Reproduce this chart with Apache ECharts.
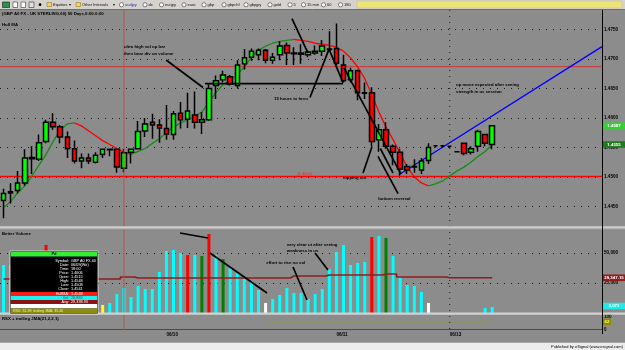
<!DOCTYPE html>
<html><head><meta charset="utf-8">
<script src="https://cdn.jsdelivr.net/npm/echarts@6/dist/echarts.min.js"></script>
<style>html,body{margin:0;padding:0;background:#8c8c8c;overflow:hidden}#c{width:625px;height:350px}</style>
</head><body><div id="c"></div>
<script>
// ---------------- DATA ----------------
const chartTitle = '(GBP A0 FX - UK STERLING,60) 90 Days,0:00-0:00';
const slotCount = 85;                       // hourly slots on the x axis (incl. empty right margin)
const dateTickIndex = [23, 47, 63];
const dateTickText = ['06/10', '06/11', '06/13'];
const weekStartIndex = 63;
const cursorIndex = 17;
// [open, close, low, high]
const ohlc = [
 [1.4460,1.4472,1.4430,1.4480],[1.4473,1.4475,1.4455,1.4490],[1.4477,1.4490,1.4472,1.4510],[1.4490,1.4532,1.4485,1.4547],
 [1.4533,1.4531,1.4505,1.4552],[1.4530,1.4558,1.4527,1.4572],[1.4560,1.4593,1.4557,1.4597],[1.4593,1.4585,1.4580,1.4608],
 [1.4585,1.4568,1.4557,1.4588],[1.4568,1.4548,1.4532,1.4577],[1.4548,1.4527,1.4523,1.4562],[1.4527,1.4532,1.4515,1.4540],
 [1.4532,1.4527,1.4522,1.4540],[1.4525,1.4537,1.4523,1.4542],[1.4538,1.4547,1.4532,1.4548],[1.4547,1.4546,1.4535,1.4548],
 [1.4547,1.4517,1.4507,1.4548],[1.4515,1.4541,1.4508,1.4548],[1.4542,1.4547,1.4523,1.4548],[1.4548,1.4577,1.4547,1.4595],
 [1.4578,1.4590,1.4568,1.4600],[1.4593,1.4588,1.4565,1.4607],[1.4588,1.4583,1.4558,1.4598],[1.4582,1.4573,1.4563,1.4622],
 [1.4572,1.4607,1.4563,1.4612],[1.4608,1.4597,1.4582,1.4627],[1.4598,1.4612,1.4583,1.4643],[1.4605,1.4593,1.4582,1.4645],
 [1.4593,1.4597,1.4573,1.4610],[1.4597,1.4650,1.4595,1.4658],[1.4655,1.4663,1.4632,1.4672],[1.4665,1.4673,1.4660,1.4680],
 [1.4670,1.4657,1.4655,1.4673],[1.4655,1.4690,1.4650,1.4698],[1.4692,1.4702,1.4682,1.4717],[1.4703,1.4713,1.4697,1.4718],
 [1.4707,1.4715,1.4698,1.4718],[1.4715,1.4698,1.4693,1.4717],[1.4698,1.4703,1.4692,1.4710],[1.4707,1.4722,1.4698,1.4730],
 [1.4723,1.4710,1.4690,1.4728],[1.4710,1.4709,1.4690,1.4720],[1.4710,1.4708,1.4692,1.4725],[1.4707,1.4712,1.4703,1.4715],
 [1.4710,1.4713,1.4707,1.4723],[1.4713,1.4722,1.4705,1.4732],[1.4717,1.4716,1.4713,1.4747],[1.4718,1.4693,1.4690,1.4760],
 [1.4690,1.4663,1.4660,1.4707],[1.4665,1.4680,1.4660,1.4685],[1.4680,1.4643,1.4630,1.4682],[1.4643,1.4642,1.4632,1.4660],
 [1.4643,1.4560,1.4552,1.4652],[1.4563,1.4580,1.4543,1.4590],[1.4580,1.4552,1.4548,1.4593],[1.4552,1.4542,1.4520,1.4555],
 [1.4542,1.4513,1.4502,1.4548],[1.4518,1.4512,1.4505,1.4522],[1.4518,1.4517,1.4507,1.4530],[1.4512,1.4527,1.4505,1.4532],
 [1.4528,1.4550,1.4522,1.4557],[1.4553,1.4553,1.4550,1.4554],[1.4553,1.4553,1.4550,1.4553],[1.4552,1.4552,1.4549,1.4552],
 [1.4543,1.4543,1.4543,1.4543],[1.4557,1.4540,1.4537,1.4558],[1.4542,1.4548,1.4538,1.4552],[1.4552,1.4577,1.4543,1.4580],
 [1.4572,1.4557,1.4552,1.4573],[1.4555,1.4587,1.4547,1.4588]
];
const hullMA = [
 1.44483,1.44583,1.44733,1.4485,1.45017,1.452,1.45383,1.456,1.458,1.459,
 1.45917,1.45867,1.45783,1.457,1.45617,1.4555,1.45483,1.45417,1.45383,1.45433,
 1.45483,1.45567,1.4565,1.4575,1.4585,1.45917,1.45967,1.46033,1.461,1.46267,
 1.46433,1.46567,1.46633,1.46733,1.46867,1.47033,1.4715,1.47217,1.47267,1.473,
 1.47317,1.47333,1.47317,1.473,1.47267,1.4725,1.47233,1.472,1.47133,1.47017,
 1.46867,1.46667,1.464,1.461,1.4585,1.45633,1.454,1.45167,1.45,1.449,
 1.4485,1.44883,1.44933,1.45017,1.451,1.45167,1.4525,1.4535,1.45433,1.4555
];
const resistanceLevel = 1.4687;
const supportLevel = 1.4501;
const trendLine = [[56, 1.4505], [84.5, 1.4721]];
const volumes = [
 40000,40000,38000,45000,42000,35000,56700,40000,36000,30000,
 32000,25000,22000,20000,6700,8300,15800,20800,13300,22500,
 20000,20000,34200,51700,52500,50000,48300,48300,47500,65800,
 48300,45000,37500,33300,30000,26700,19200,8300,11700,15000,
 20800,16700,16700,11700,15800,20000,36700,50800,56700,40000,
 41700,42500,63300,64200,62500,47500,30000,23300,22500,17500,
 8300,0,0,0,0,0,0,0,4200,5000
];
// c = normal, r = climax, g = no-demand/churn, w = low volume, y = lowest
const volumeKind = [
 'c','c','c','c','c','c','r','c','c','c','c','c','c','c','y','c','c','c','c','c',
 'c','c','c','c','c','c','r','c','g','r','c','g','c','c','c','c','c','w','c','c',
 'c','c','c','c','c','c','c','c','c','c','c','c','r','c','g','c','c','c','c','c',
 'w','c','c','c','c','c','c','c','c','c'
];
const avgVolume = [
 28300,28300,28300,28300,28300,28300,28300,28300,28300,28300,28300,28300,28300,28300,28300,28300,28300,
 30000,30000,
 29200,29200,29200,29200,29200,29200,29200,29200,29200,29200,29200,29200,29200,29200,29200,29200,29200,29200,29200,29200,29200,29200,
 30800,30800,30800,30800,30800,
 31700,31700,31700,31700,31700,31700,31700,31700,
 32500,32500,
 30000,30000,30000,30000,30000,30000,30000,
 29347.15,29347.15,29347.15,29347.15,29347.15,29347.15,29347.15
];
const lastVolumeText = '3,072';
const rsxJma = [
 null,null,null,null,null,null,null,null,null,null,null,null,null,null,null,null,null,null,null,null,
 null,null,null,null,null,null,null,null,null,null,null,null,null,null,null,null,null,
 62,62,62,62,62,62,62,62,62,62,62,62,62,62,62,62,62,62,62,62,62,62,62,62,62,62,62,62,62,62,62,62,62
];
// annotations: [barIndex, price] / [barIndex, volume]
const priceNotes = [
 {text:['ultra high vol up bar','then bear div on volume'], at:[17.0, 1.4720]},
 {text:['15 hours to form'], at:[38.2, 1.46333]},
 {text:['topping out'], at:[47.9, 1.44983]},
 {text:['bottom reversal'], at:[52.9, 1.44633]},
 {text:['up move expected after seeing','strength in us session'], at:[63.9, 1.46567]}
];
const priceNoteLines = [
 [[22.95,1.46983],[28.17,1.46517]],
 [[28.45,1.46583],[47.93,1.46583]],
 [[40.73,1.47683],[42.99,1.4710]],
 [[43.27,1.4635],[45.96,1.47167],[47.93,1.4660]],
 [[48.07,1.4685],[56.12,1.4505]],
 [[50.76,1.45067],[52.03,1.45517]],
 [[55.7,1.44717],[52.87,1.4535]],
 [[53.2,1.45483],[55.0,1.45067]]
];
const volumeNotes = [
 {text:['very clear ut after seeing','weakness in us'], at:[40.0, 56667]},
 {text:['effort to rise no vol'], at:[37.1, 41667]}
];
const volumeNoteLines = [
 [[24.92,66667],[28.87,62500]],
 [[29.15,50000],[37.2,16667]],
 [[40.87,38333],[42.85,10833]],
 [[43.98,50000],[45.81,35833]]
];
const dataWindow = [
 ['Symbol:','GBP A0 FX,60'],['Date:','06/09(We)'],['Time:','18:00'],['Price:','1.4606'],
 ['Open:','1.4515'],['High:','1.4548'],['Low:','1.4508'],['Close:','1.4541']
];
const dataWindowHull = ['HullMA:','1.4548'];
const dataWindowVol = ['Vol:','28,883'];
const dataWindowAvg = ['Avg:','29,338.93'];
const dataWindowRsx = 'RSX: 31.39  trailing JMA: 35.40';
const toolbarItems = [
 ['audjpy',121.5],['dx',145],['eurjpy',161.5],['euro',184],['gbp',204],['gbpchf',224],
 ['gbpjpy',246],['gold',270],['5',290],['15 min',303.5],['60',323.5],['180',340.5]
];

// ---------------- CHART ----------------
const FONT = '"Liberation Sans", Arial, sans-serif';
const slots = Array.from({length: slotCount}, (_, i) => 'h' + i);
const kindColor = {c:'#00ffff', r:'#ff0000', g:'#008000', w:'#ffffff', y:'#ffff00'};

// split the Hull MA into rising (green) and falling (red) runs
function hullRuns(vals) {
  const runs = []; let start = 0; let dir = vals[1] >= vals[0];
  for (let i = 1; i < vals.length; i++) {
    const d = vals[i] >= vals[i - 1];
    if (d !== dir) { runs.push([start, i - 1, dir]); start = i - 1; dir = d; }
  }
  runs.push([start, vals.length - 1, dir]);
  return runs;
}
const hullSeries = hullRuns(hullMA).map(([a, b, up]) => ({
  type:'line', xAxisIndex:0, yAxisIndex:0, showSymbol:false, silent:true, z:3,
  data:hullMA.map((v, i) => (i >= a && i <= b) ? v : null),
  lineStyle:{color: up ? '#168c16' : '#ff0000', width:1.3}
}));

const levelSeries = (lvl, color, w) => ({
  type:'line', xAxisIndex:1, yAxisIndex:0, showSymbol:false, silent:true, z:2,
  data:[[-0.5, lvl], [slotCount - 0.5, lvl]], lineStyle:{color:color, width:w}
});

const noteLineSeries = (lines, xi, yi) => lines.map(l => ({
  type:'line', xAxisIndex:xi, yAxisIndex:yi, data:l, showSymbol:false, silent:true,
  lineStyle:{color:'#000', width:1.7}, z:5
}));

const dotted = {show:true, showMinLine:false, showMaxLine:false, lineStyle:{color:'#1c1c1c', width:1, type:[1,6]}};
const axLabel = {color:'#000', fontSize:4.6, fontWeight:'bold', fontFamily:FONT, margin:2, showMinLabel:false, showMaxLabel:false};

const chart = echarts.init(document.getElementById('c'), null, {width:625, height:350});
const option = {
  animation:false,
  backgroundColor:'#8c8c8c',
  textStyle:{fontFamily:FONT},
  grid:[
    {left:0, top:-4, width:602, height:240},
    {left:0, top:229, width:602, height:84},
    {left:0, top:317, width:602, height:12.5}
  ],
  xAxis:[
    {type:'category', gridIndex:0, data:slots, show:false},
    {type:'value', gridIndex:0, min:-0.5, max:slotCount-0.5, show:false},
    {type:'category', gridIndex:1, data:slots, show:false},
    {type:'value', gridIndex:1, min:-0.5, max:slotCount-0.5, show:false},
    {type:'category', gridIndex:2, data:slots,
      axisLine:{show:true, lineStyle:{color:'#4a4a4a'}}, axisTick:{show:false}, splitLine:{show:false},
      axisLabel:{interval:(i) => dateTickIndex.includes(i),
        formatter:(v, i) => { const k = dateTickIndex.indexOf(i); return k >= 0 ? dateTickText[k] : ''; },
        align:'left', margin:3, color:'#000', fontSize:4.6, fontWeight:'bold', fontFamily:FONT}}
  ],
  yAxis:[
    {type:'value', gridIndex:0, position:'right', min:1.44, max:1.48, interval:0.005,
      axisLine:{show:false}, axisTick:{show:false}, splitLine:dotted,
      axisLabel:Object.assign({}, axLabel, {formatter:v => v.toFixed(4)})},
    {type:'value', gridIndex:1, position:'right', min:0, max:70000, interval:25000,
      axisLine:{show:false}, axisTick:{show:false}, splitLine:dotted,
      axisLabel:Object.assign({}, axLabel, {formatter:v => v.toLocaleString('en-US')})},
    {type:'value', gridIndex:2, position:'right', min:0, max:100, interval:100,
      axisLine:{show:false}, axisTick:{show:false}, splitLine:{show:false},
      axisLabel:Object.assign({}, axLabel, {showMinLabel:true, showMaxLabel:true})}
  ],
  series:[
    {type:'candlestick', xAxisIndex:0, yAxisIndex:0, data:ohlc, barWidth:5, z:4,
      itemStyle:{color:'#00ff00', color0:'#ff0000', borderColor:'#000', borderColor0:'#000',
        borderColorDoji:'#000', borderWidth:1.5}},
    levelSeries(resistanceLevel, '#cf3636', 1),
    levelSeries(supportLevel, '#ff0000', 1.5),
    ...hullSeries,
    {type:'line', xAxisIndex:1, yAxisIndex:0, data:trendLine, showSymbol:false, z:3,
      lineStyle:{color:'#0000ff', width:1.3}},
    ...noteLineSeries(priceNoteLines, 1, 0),
    {type:'bar', xAxisIndex:2, yAxisIndex:1, barWidth:3, z:2,
      data:volumes.map((v, i) => ({value:v, itemStyle:{color:kindColor[volumeKind[i]]}}))},
    {type:'line', xAxisIndex:2, yAxisIndex:1, data:avgVolume, step:'middle', showSymbol:false, z:3,
      lineStyle:{color:'#8e1c1c', width:1.6}},
    ...noteLineSeries(volumeNoteLines, 3, 1),
    {type:'line', xAxisIndex:4, yAxisIndex:2, data:rsxJma, showSymbol:false, z:3,
      lineStyle:{color:'#9c9c10', width:1}}
  ]
};
chart.setOption(option);

// ---------------- overlays positioned through the axes ----------------
const px = (xi, yi, x, y) => chart.convertToPixel({xAxisIndex:xi, yAxisIndex:yi}, [x, y]);
const G = [];
function txt(x, y, s, o) {
  o = o || {};
  G.push({type:'text', x:x, y:y, z:o.z || 110, silent:true,
    style:{text:s, fill:o.fill || '#000', fontSize:o.size || 4.6, fontWeight:o.weight || 'bold', fontFamily:FONT,
      align:o.align || 'left', textAlign:o.align || 'left', verticalAlign:'middle', textVerticalAlign:'middle'}});
}
function rect(x, y, w, h, fill, o) {
  o = o || {};
  G.push({type:'rect', z:o.z || 100, silent:true, shape:{x:x, y:y, width:w, height:h},
    style:{fill:fill, stroke:o.stroke || null, lineWidth:o.lw || 1}});
}
function line(x1, y1, x2, y2, stroke, o) {
  o = o || {};
  G.push({type:'line', z:o.z || 100, silent:true, shape:{x1:x1, y1:y1, x2:x2, y2:y2},
    style:{stroke:stroke, lineWidth:o.lw || 1, lineDash:o.dash || null}});
}

// toolbar
rect(0, 0, 625, 9.5, '#d6d3ce');
line(0, 9.5, 625, 9.5, '#6e6e6e');
rect(2.5, 2, 7, 5.5, '#2f8f4f', {stroke:'#1a1a1a', lw:0.6});
rect(13, 2, 4.5, 5.5, '#ffffff', {stroke:'#333', lw:0.6});
rect(21, 2, 4.5, 5.5, '#ffffff', {stroke:'#333', lw:0.6});
rect(29, 2, 5, 5.5, '#e0e0e0', {stroke:'#333', lw:0.6});
G.push({type:'circle', z:101, silent:true, shape:{cx:40, cy:4.7, r:1.4}, style:{fill:'#000'}});
rect(47, 2.5, 4.5, 4, '#f2d36a', {stroke:'#8a6a00', lw:0.5});
txt(53, 4.8, 'Equities', {size:4, weight:'normal', fill:'#111'});
txt(69, 4.8, '▾', {size:4, weight:'normal', fill:'#111'});
rect(76, 2.5, 4.5, 4, '#f2d36a', {stroke:'#8a6a00', lw:0.5});
txt(82, 4.8, 'Other Intervals', {size:4, weight:'normal', fill:'#111'});
txt(113, 4.8, '▾', {size:4, weight:'normal', fill:'#111'});
toolbarItems.forEach(([t, cx], i) => {
  G.push({type:'circle', z:101, silent:true, shape:{cx:cx, cy:4.8, r:2.1}, style:{fill:'#fff', stroke:'#334', lineWidth:0.6}});
  txt(cx + 3.5, 4.8, t, {size:4, weight:'normal', fill:i === 0 ? '#2233aa' : '#111'});
});
rect(357, 1, 265, 7, '#eee476', {stroke:'#c9c08a', lw:0.6});

// panel separators and frame
rect(0, 226.3, 625, 2.7, '#cdcdcd');
line(0, 229, 625, 229, '#9a9a9a');
rect(0, 312.6, 625, 2.2, '#d2d2d2');
rect(0, 342.5, 625, 7.5, '#ececec');
line(0, 342.5, 625, 342.5, '#a6a6a6');
txt(623, 346.6, 'Published by eSignal (www.esignal.com)', {size:4, weight:'normal', align:'right'});
line(602.5, 10, 602.5, 334, '#000', {z:102});

// cursor and week-start lines
const cx = px(0, 0, cursorIndex, 1.46)[0];
line(cx, 10, cx, 330, 'rgba(200,70,70,0.85)', {z:50});
const wx = px(0, 0, weekStartIndex, 1.46)[0];
line(wx, 10, wx, 333, '#1c1c1c', {z:6, dash:[1, 5]});

// panel titles
txt(2, 13.4, chartTitle, {size:4.3});
txt(2, 25, 'Hull MA', {size:4.3});
txt(2, 233.5, 'Better Volume', {size:4.3});
txt(2, 318.5, 'RSX + trailing JMA(21,2,2,1)', {size:4.3});

// annotations
priceNotes.forEach(n => {
  const p = px(1, 0, n.at[0], n.at[1]);
  n.text.forEach((t, k) => txt(p[0], p[1] + k * 7, t, {size:4.3}));
});
volumeNotes.forEach(n => {
  const p = px(3, 1, n.at[0], n.at[1]);
  n.text.forEach((t, k) => txt(p[0], p[1] + k * 5.5, t, {size:4.3}));
});
const sp = px(1, 0, 41.5, supportLevel);
txt(sp[0], sp[1] - 3, '(' + supportLevel.toFixed(4) + ')', {size:4, fill:'#ff2020', weight:'normal'});

// right-edge value boxes
function valueBox(y, text, fill, color, w) {
  rect(603, y - 3.3, w || 22, 6.6, fill, {z:103});
  txt(603 + (w || 22) / 2, y, text, {align:'center', fill:color, size:4.4, z:104});
}
const lastClose = ohlc[ohlc.length - 1][1];
valueBox(px(0, 0, 69, lastClose)[1], lastClose.toFixed(4), '#36cf36', '#ffffff');
const lastHull = hullMA[hullMA.length - 1];
valueBox(px(0, 0, 69, lastHull)[1], lastHull.toFixed(4), '#1d7d1d', '#ffffff');
const lastAvg = avgVolume[avgVolume.length - 1];
valueBox(px(2, 1, 69, lastAvg)[1], lastAvg.toLocaleString('en-US', {minimumFractionDigits:2}), '#8e1c1c', '#ffffff');
valueBox(px(2, 1, 69, volumes[volumes.length - 1])[1] - 1, lastVolumeText, '#22e8e8', '#ffffff');
const lastRsx = rsxJma[rsxJma.length - 1];
valueBox(px(4, 2, 69, lastRsx)[1], String(lastRsx), '#8a8a00', '#ffff60', 8);

// data window
const bx = 10, by = 251;
rect(bx, by, 88, 63, '#000', {stroke:'#e8e8e8', lw:0.8, z:105});
rect(bx + 0.8, by + 0.8, 86.4, 4.6, '#33ee33', {z:106});
txt(bx + 44, by + 3.1, 'Pd', {align:'center', size:4, z:107});
dataWindow.forEach((r, k) => {
  const y = by + 9.5 + k * 4.1;
  txt(69, y, r[0], {align:'right', fill:'#fff', size:3.8, weight:'normal', z:107});
  txt(71, y, r[1], {fill:'#fff', size:3.8, weight:'normal', z:107});
});
rect(bx + 0.8, 292, 86.4, 4, '#ff1a1a', {z:106});
txt(69, 294, dataWindowHull[0], {align:'right', fill:'#fff', size:3.8, weight:'normal', z:107});
txt(71, 294, dataWindowHull[1], {fill:'#fff', size:3.8, weight:'normal', z:107});
rect(bx + 0.8, 296, 86.4, 4, '#1ef0f0', {z:106});
txt(69, 298, dataWindowVol[0], {align:'right', fill:'#505050', size:3.8, weight:'normal', z:107});
txt(71, 298, dataWindowVol[1], {fill:'#505050', size:3.8, weight:'normal', z:107});
rect(bx + 0.8, 300, 86.4, 4, '#8a1212', {z:106});
txt(69, 302, dataWindowAvg[0], {align:'right', fill:'#fff', size:3.8, weight:'normal', z:107});
txt(71, 302, dataWindowAvg[1], {fill:'#fff', size:3.8, weight:'normal', z:107});
rect(bx + 0.8, 304, 86.4, 4.6, '#ffffff', {z:106});
rect(bx + 0.8, 308.6, 86.4, 4.8, '#8c8c10', {z:106});
txt(bx + 3, 311, dataWindowRsx, {fill:'#f0f0a0', size:3.6, weight:'normal', z:107});

chart.setOption({graphic:{elements:G}});
</script>
</body></html>
